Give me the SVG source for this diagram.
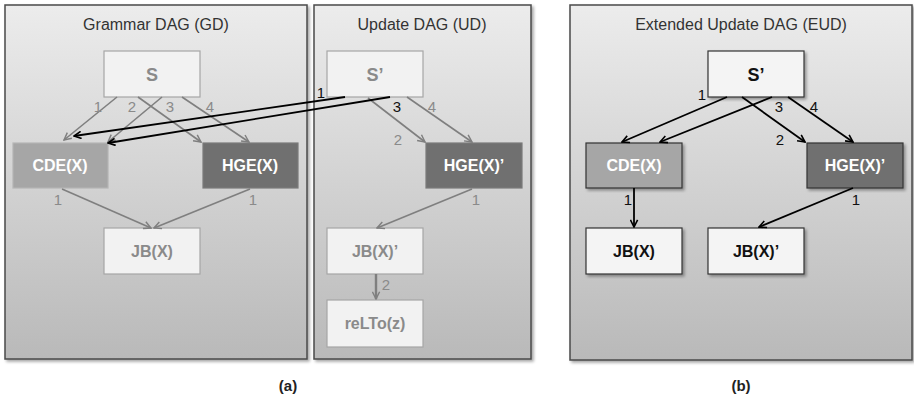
<svg xmlns="http://www.w3.org/2000/svg" width="914" height="404" viewBox="0 0 914 404">
<defs>
<linearGradient id="pg" x1="0" y1="0" x2="0" y2="1">
<stop offset="0" stop-color="#ececec"/>
<stop offset="1" stop-color="#b9b9b9"/>
</linearGradient>
<filter id="sh" x="-5%" y="-5%" width="115%" height="115%">
<feDropShadow dx="2" dy="2" stdDeviation="1.5" flood-color="#000" flood-opacity="0.35"/>
</filter>
<marker id="ag" viewBox="0 0 10 10" refX="9" refY="5" markerWidth="9" markerHeight="9" markerUnits="userSpaceOnUse" orient="auto">
<path d="M1,1 L9,5 L1,9" fill="none" stroke="#7f7f7f" stroke-width="1.6"/>
</marker>
<marker id="ab" viewBox="0 0 10 10" refX="9" refY="5" markerWidth="9" markerHeight="9" markerUnits="userSpaceOnUse" orient="auto">
<path d="M1,1 L9,5 L1,9" fill="none" stroke="#000" stroke-width="1.8"/>
</marker>
</defs>
<style>
text{font-family:"Liberation Sans",Arial,sans-serif}
.panel{fill:url(#pg);stroke:#4a4a4a;stroke-width:1.5;filter:url(#sh)}
.title{font-size:16px;fill:#333;text-anchor:middle}
.lt{fill:#f2f2f2;stroke:#a6a6a6;stroke-width:1.2}
.mid{fill:#a6a6a6;stroke:#b5b5b5;stroke-width:1.2}
.dk{fill:#707070;stroke:#7a7a7a;stroke-width:1.2}
.ltb{fill:#f4f4f4;stroke:#333;stroke-width:1.2;filter:url(#sh)}
.midb{fill:#a6a6a6;stroke:#333;stroke-width:1.2;filter:url(#sh)}
.dkb{fill:#707070;stroke:#333;stroke-width:1.2;filter:url(#sh)}
.nl{font-size:16px;font-weight:bold;text-anchor:middle}
.s{font-size:18px}
.g{fill:#8a8a8a}
.w{fill:#fff}
.k{fill:#111}
.eg{stroke:#7f7f7f;stroke-width:1.6;fill:none;marker-end:url(#ag)}
.eb{stroke:#000;stroke-width:1.8;fill:none;marker-end:url(#ab)}
.lg{font-size:15px;fill:#8a8a8a;text-anchor:middle}
.lb{font-size:15px;fill:#111;text-anchor:middle}
.cap{font-size:15px;font-weight:bold;fill:#222;text-anchor:middle}
</style>

<g id="panel-gd"><rect class="panel" x="5" y="5" width="302" height="354"/><text class="title" x="156" y="30">Grammar DAG (GD)</text></g>
<g id="panel-ud"><rect class="panel" x="314" y="5" width="217" height="354"/><text class="title" x="422" y="30">Update DAG (UD)</text></g>
<g id="panel-eud"><rect class="panel" x="570" y="5" width="342" height="355"/><text class="title" x="741" y="30">Extended Update DAG (EUD)</text></g>

<g id="gd-S"><rect class="lt" x="104" y="51" width="96" height="46"/><text class="nl g s" x="152" y="81" font-weight="normal">S</text></g>
<g id="gd-CDE"><rect class="mid" x="13" y="143" width="95" height="45"/><text class="nl w" x="60" y="171">CDE(X)</text></g>
<g id="gd-HGE"><rect class="dk" x="203" y="143" width="95" height="45"/><text class="nl w" x="250" y="171">HGE(X)</text></g>
<g id="gd-JB"><rect class="lt" x="104" y="228" width="96" height="46"/><text class="nl g" x="152" y="257">JB(X)</text></g>

<g id="ud-S"><rect class="lt" x="327" y="51" width="96" height="46"/><text class="nl g s" x="375" y="81" font-weight="normal">S’</text></g>
<g id="ud-HGE"><rect class="dk" x="426" y="143" width="96" height="45"/><text class="nl w" x="474" y="171">HGE(X)’</text></g>
<g id="ud-JB"><rect class="lt" x="327" y="228" width="96" height="46"/><text class="nl g" x="375" y="257">JB(X)’</text></g>
<g id="ud-reLTo"><rect class="lt" x="327" y="300" width="96" height="47"/><text class="nl g" x="375" y="329">reLTo(z)</text></g>

<g id="eud-S"><rect class="ltb" x="708" y="51" width="96" height="46"/><text class="nl k s" x="756" y="81">S’</text></g>
<g id="eud-CDE"><rect class="midb" x="586" y="143" width="96" height="45"/><text class="nl w" x="634" y="171">CDE(X)</text></g>
<g id="eud-HGE"><rect class="dkb" x="807" y="143" width="96" height="45"/><text class="nl w" x="855" y="171">HGE(X)’</text></g>
<g id="eud-JB"><rect class="ltb" x="586" y="228" width="96" height="46"/><text class="nl k" x="634" y="257">JB(X)</text></g>
<g id="eud-JBp"><rect class="ltb" x="708" y="228" width="96" height="46"/><text class="nl k" x="756" y="257">JB(X)’</text></g>

<g id="connectors">
<line class="eg" x1="117" y1="97" x2="64" y2="140"/>
<line class="eg" x1="138" y1="97" x2="201" y2="142"/>
<line class="eg" x1="162" y1="97" x2="108" y2="142"/>
<line class="eg" x1="182" y1="97" x2="249" y2="142"/>
<line class="eg" x1="62" y1="189" x2="151" y2="228"/>
<line class="eg" x1="250" y1="189" x2="154" y2="228"/>
<line class="eg" x1="368" y1="98" x2="425" y2="142"/>
<line class="eg" x1="407" y1="97" x2="472" y2="142"/>
<line class="eg" x1="472" y1="189" x2="377" y2="228"/>
<line x1="376" y1="274" x2="376" y2="299" stroke="#7f7f7f" stroke-width="2.4" marker-end="url(#ag)"/>
<line class="eb" x1="345" y1="97" x2="74" y2="136"/>
<line class="eb" x1="390" y1="97" x2="108" y2="143"/>
<line class="eb" x1="727" y1="97" x2="622" y2="142"/>
<line class="eb" x1="772" y1="97" x2="660" y2="142"/>
<line class="eb" x1="742" y1="97" x2="805" y2="142"/>
<line class="eb" x1="788" y1="97" x2="853" y2="142"/>
<line class="eb" x1="634" y1="188" x2="634" y2="227"/>
<line class="eb" x1="853" y1="188" x2="759" y2="227"/>
<text class="lg" x="98" y="112">1</text>
<text class="lg" x="132" y="112">2</text>
<text class="lg" x="170" y="112">3</text>
<text class="lg" x="210" y="112">4</text>
<text class="lg" x="58" y="205">1</text>
<text class="lg" x="253" y="205">1</text>
<text class="lg" x="398" y="145">2</text>
<text class="lg" x="432" y="112">4</text>
<text class="lg" x="476" y="205">1</text>
<text class="lg" x="386" y="290">2</text>
<text class="lb" x="321" y="98">1</text>
<text class="lb" x="397" y="112">3</text>
<text class="lb" x="702" y="100">1</text>
<text class="lb" x="779" y="112">3</text>
<text class="lb" x="780" y="145">2</text>
<text class="lb" x="814" y="112">4</text>
<text class="lb" x="628" y="205">1</text>
<text class="lb" x="856" y="205">1</text>
</g>

<text class="cap" x="288" y="391">(a)</text>
<text class="cap" x="741" y="391">(b)</text>
</svg>
